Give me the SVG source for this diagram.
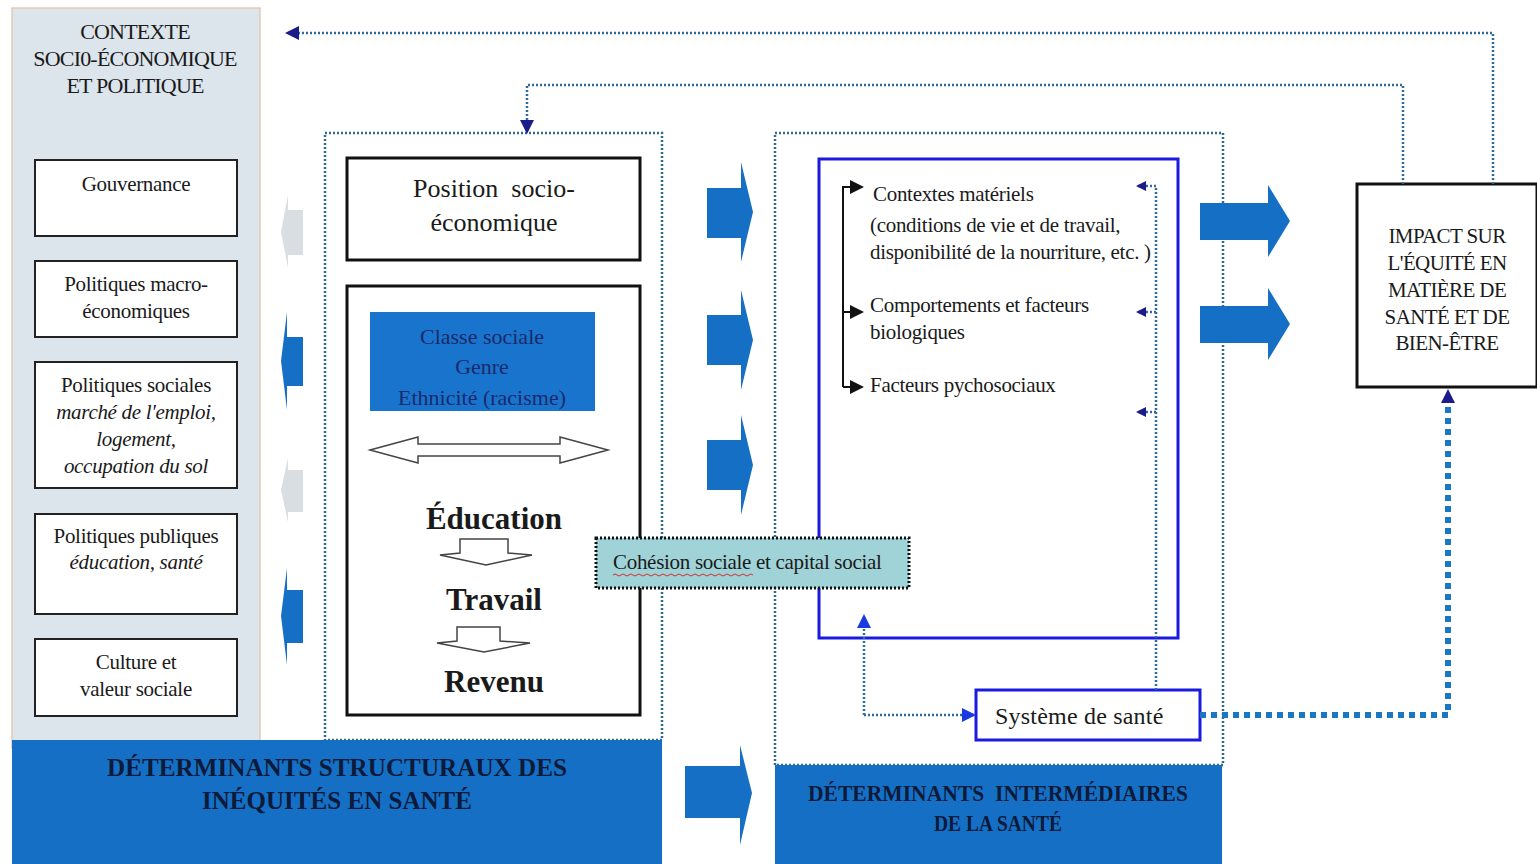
<svg xmlns="http://www.w3.org/2000/svg" width="1537" height="864" viewBox="0 0 1537 864">
<style>
text{font-family:"Liberation Serif","Times New Roman",serif;fill:#1a1a1a}
.t{font-size:21px;letter-spacing:-0.3px}
.c{text-anchor:middle}
.it{font-style:italic}
.box{fill:#fff;stroke:#222;stroke-width:2}
.bbox{fill:#fff;stroke:#111;stroke-width:3}
.blue{fill:#1570c5}
.dotbox{fill:none;stroke:#2f6b8c;stroke-width:2.5;stroke-dasharray:2 2}
.conn{fill:none;stroke:#2f6b9a;stroke-width:2.5;stroke-dasharray:2 2}
.ban{font-weight:bold;fill:#0d1a3a;text-anchor:middle}
.outl{fill:#fff;stroke:#444;stroke-width:1.5}
.cap{font-size:22px;letter-spacing:-0.8px;text-anchor:middle}
.imp{font-size:21px;letter-spacing:-0.6px;text-anchor:middle}
.cls{font-size:22px;text-anchor:middle;fill:#1b2a6a}
.big{font-size:31px;font-weight:bold;text-anchor:middle}
</style>
<defs>
<marker id="nav" markerWidth="10" markerHeight="10" refX="8" refY="5" orient="auto" markerUnits="userSpaceOnUse">
<path d="M0,0 L10,5 L0,10 Z" fill="#1b1b8a"/>
</marker>
<marker id="nav2" markerWidth="14" markerHeight="14" refX="11" refY="7" orient="auto" markerUnits="userSpaceOnUse">
<path d="M0,0 L14,7 L0,14 Z" fill="#1b1b8a"/>
</marker>
<marker id="blk" markerWidth="14" markerHeight="14" refX="12" refY="7" orient="auto" markerUnits="userSpaceOnUse">
<path d="M0,0 L14,7 L0,14 Z" fill="#111"/>
</marker>
<marker id="blu" markerWidth="14" markerHeight="14" refX="12" refY="7" orient="auto" markerUnits="userSpaceOnUse">
<path d="M0,0 L14,7 L0,14 Z" fill="#1a3ae0"/>
</marker>
</defs>

<g id="contexte">
<rect x="12" y="8" width="248" height="740" fill="#dce5ec" stroke="#e9c9b4" stroke-width="1.5"/>
<text x="135" y="39" class="cap">CONTEXTE</text>
<text x="135" y="66" class="cap">SOCI0-ÉCONOMIQUE</text>
<text x="135" y="93" class="cap">ET POLITIQUE</text>
</g>
<g id="gouvernance"><rect class="box" x="35" y="160" width="202" height="76"/><text x="136" y="191" class="t c">Gouvernance</text></g>
<g id="macro"><rect class="box" x="35" y="261" width="202" height="76"/><text x="136" y="291" class="t c">Politiques macro-</text><text x="136" y="318" class="t c">économiques</text></g>
<g id="sociales"><rect class="box" x="35" y="362" width="202" height="126"/><text x="136" y="392" class="t c">Politiques sociales</text><text x="136" y="419" class="t c it">marché de l'emploi,</text><text x="136" y="446" class="t c it">logement,</text><text x="136" y="473" class="t c it">occupation du sol</text></g>
<g id="publiques"><rect class="box" x="35" y="514" width="202" height="100"/><text x="136" y="543" class="t c">Politiques publiques</text><text x="136" y="569" class="t c it">éducation, santé</text></g>
<g id="culture"><rect class="box" x="35" y="639" width="202" height="77"/><text x="136" y="669" class="t c">Culture et</text><text x="136" y="696" class="t c">valeur sociale</text></g>

<g id="left-arrows">
<polygon points="303,210 288,210 288,195 281,232 288,268 288,255 303,255" fill="#d9dee3"/>
<polygon points="303,337 287,337 287,312 281,361 287,410 287,386 303,386" fill="#1570c5"/>
<polygon points="303,470 288,470 288,458 281,490 288,522 288,512 303,512" fill="#d9dee3"/>
<polygon points="303,590 287,590 287,568 281,616 287,665 287,643 303,643" fill="#1570c5"/>
</g>

<g id="structurel">
<rect class="dotbox" x="325" y="133" width="337" height="607"/>
</g>
<g id="position"><rect class="bbox" x="347" y="158" width="293" height="102"/><text x="494" y="197" class="c" font-size="26" xml:space="preserve">Position  socio-</text><text x="494" y="231" class="c" font-size="26">économique</text></g>
<g id="stratification">
<rect class="bbox" x="347" y="286" width="293" height="429"/>
<rect x="370" y="312" width="225" height="99" fill="#1874cd"/>
<text x="482" y="344" class="cls">Classe sociale</text>
<text x="482" y="374" class="cls">Genre</text>
<text x="482" y="405" class="cls">Ethnicité (racisme)</text>
<polygon class="outl" points="370,450 418,437 418,444 560,444 560,437 608,450 560,463 560,456 418,456 418,463"/>
<text x="494" y="529" class="big">Éducation</text>
<polygon class="outl" points="460,539 508,539 508,553 532,555 486,565 440,555 460,553"/>
<text x="494" y="610" class="big">Travail</text>
<polygon class="outl" points="457,627 500,627 500,641 530,643 484,652 437,643 457,641"/>
<text x="494" y="692" class="big">Revenu</text>
</g>

<g id="mid-arrows">
<polygon points="707,188 741,188 741,162 753,212 741,262 741,238 707,238" fill="#1570c5"/>
<polygon points="707,315 741,315 741,290 753,340 741,390 741,365 707,365" fill="#1570c5"/>
<polygon points="707,440 741,440 741,415 753,465 741,515 741,490 707,490" fill="#1570c5"/>
<polygon points="685,766 740,766 740,745 752,793 740,845 740,818 685,818" fill="#1570c5"/>
</g>

<g id="intermediaire">
<rect class="dotbox" x="775" y="133" width="448" height="632"/>
</g>
<g id="circonstances">
<rect x="819" y="159" width="359" height="479" fill="#fff" stroke="#1a1ae0" stroke-width="3"/>
<text x="873" y="201" class="t">Contextes matériels</text>
<text x="870" y="232" class="t">(conditions de vie et de travail,</text>
<text x="870" y="259" class="t">disponibilité de la nourriture, etc. )</text>
<text x="870" y="312" class="t">Comportements et facteurs</text>
<text x="870" y="339" class="t">biologiques</text>
<text x="870" y="392" class="t">Facteurs pychosociaux</text>
</g>
<g id="cohesion">
<rect x="596" y="538" width="313" height="50" fill="#a0d3d7" stroke="#111" stroke-width="3" stroke-dasharray="2 2"/>
<text x="613" y="569" font-size="21" letter-spacing="-0.3">Cohésion sociale et capital social</text>
<path d="M613,575 q2,-2 4,0 t4,0 t4,0 t4,0 t4,0 t4,0 t4,0 t4,0 t4,0 t4,0 t4,0 t4,0 t4,0 t4,0 t4,0 t4,0 t4,0 t4,0 t4,0 t4,0 t4,0 t4,0 t4,0 t4,0 t4,0 t4,0 t4,0 t4,0 t4,0 t4,0 t4,0 t4,0 t4,0 t4,0 t4,0" fill="none" stroke="#d03030" stroke-width="1"/>
</g>
<g id="systeme"><rect x="976" y="690" width="224" height="50" fill="#fff" stroke="#1a1ae0" stroke-width="3"/><text x="995" y="724" font-size="24" letter-spacing="0.2">Système de santé</text></g>
<g id="impact">
<rect x="1357" y="184" width="180" height="203" fill="#fff" stroke="#111" stroke-width="3"/>
<text x="1447" y="243" class="imp">IMPACT SUR</text>
<text x="1447" y="270" class="imp">L'ÉQUITÉ EN</text>
<text x="1447" y="297" class="imp">MATIÈRE DE</text>
<text x="1447" y="324" class="imp">SANTÉ ET DE</text>
<text x="1447" y="350" class="imp">BIEN-ÊTRE</text>
</g>

<g id="right-arrows">
<polygon points="1200,203 1268,203 1268,185 1290,221 1268,257 1268,240 1200,240" fill="#1570c5"/>
<polygon points="1200,306 1268,306 1268,288 1290,324 1268,360 1268,343 1200,343" fill="#1570c5"/>
</g>

<g id="banners">
<rect x="12" y="740" width="650" height="124" class="blue"/>
<text x="337" y="776" class="ban" font-size="25" textLength="460" lengthAdjust="spacingAndGlyphs">DÉTERMINANTS STRUCTURAUX DES</text>
<text x="337" y="809" class="ban" font-size="25" textLength="270" lengthAdjust="spacingAndGlyphs">INÉQUITÉS EN SANTÉ</text>
<rect x="775" y="765" width="447" height="99" class="blue"/>
<text x="998" y="801" class="ban" font-size="23" textLength="380" lengthAdjust="spacingAndGlyphs" xml:space="preserve">DÉTERMINANTS  INTERMÉDIAIRES</text>
<text x="998" y="831" class="ban" font-size="23" textLength="128" lengthAdjust="spacingAndGlyphs">DE LA SANTÉ</text>
</g>

<g id="connectors">
<path class="conn" d="M1493,184 V33 H288" marker-end="url(#nav2)"/>
<path class="conn" d="M1403,184 V85 H527 V131" marker-end="url(#nav2)"/>
<path d="M843,387 V187 H862" fill="none" stroke="#111" stroke-width="2" marker-end="url(#blk)"/>
<path d="M843,312 H862" fill="none" stroke="#111" stroke-width="2" marker-end="url(#blk)"/>
<path d="M843,387 H862" fill="none" stroke="#111" stroke-width="2" marker-end="url(#blk)"/>
<path class="conn" d="M1156,690 V186 H1138" marker-end="url(#nav)"/>
<path class="conn" d="M1156,312 H1138" marker-end="url(#nav)"/>
<path class="conn" d="M1156,412 H1138" marker-end="url(#nav)"/>
<path class="conn" d="M864,715 V616" marker-end="url(#blu)"/>
<path class="conn" d="M864,715 H974" marker-end="url(#blu)"/>
<path d="M1200,715 H1448 V392" fill="none" stroke="#1a78c2" stroke-width="6" stroke-dasharray="6 5"/>
<path d="M1448,400 V392" fill="none" stroke="#1a78c2" stroke-width="2" marker-end="url(#nav2)"/>
</g>
</svg>
